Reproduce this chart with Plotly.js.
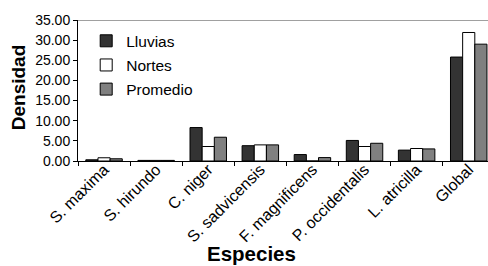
<!DOCTYPE html>
<html>
<head>
<meta charset="utf-8">
<script src="https://cdn.plot.ly/plotly-3.0.1.min.js"></script>
<style>html,body{margin:0;padding:0;background:#fff;}#chart{width:488px;height:266px;}</style>
</head>
<body>
<div id="chart"></div>
<script>
const especies = ["S. maxima", "S. hirundo", "C. niger", "S. sadvicensis", "F. magnificens", "P. occidentalis", "L. atricilla", "Global"];
const lluvias  = [0.3, 0.15, 8.3, 3.8, 1.6, 5.1, 2.7, 25.8];
const nortes   = [0.8, 0.15, 3.6, 4.0, 0.0, 3.6, 3.1, 31.9];
const promedio = [0.55, 0.15, 5.9, 4.0, 0.85, 4.4, 3.0, 29.0];
const yTicks = [0, 5, 10, 15, 20, 25, 30, 35];

const font = "'Liberation Sans', Arial, sans-serif";
const mk = (name, vals, color) => ({
  type: 'bar', name: name, x: especies, y: vals, legendgroup: name,
  marker: {color: color, line: {color: '#000', width: 1}}
});
const data = [
  mk('Lluvias', lluvias, '#333333'),
  mk('Nortes', nortes, '#ffffff'),
  mk('Promedio', promedio, '#808080')
];
const layout = {
  width: 488, height: 266,
  margin: {l: 78, r: 0, t: 19.5, b: 104.5},
  paper_bgcolor: '#fff', plot_bgcolor: '#fff',
  font: {family: font, color: '#000', size: 14},
  barmode: 'group', bargap: 0.3, bargroupgap: 0,
  showlegend: true,
  legend: {x: 0.02, y: 0.97, xanchor: 'left', yanchor: 'top', bgcolor: 'rgba(0,0,0,0)',
           font: {size: 15.5, family: font}, traceorder: 'grouped', tracegroupgap: 1},
  xaxis: {type: 'category', range: [-0.5, 7.37], tickson: 'boundaries', ticks: 'outside', ticklen: 4,
          tickcolor: '#000', showline: true, linecolor: '#000', linewidth: 1, showgrid: false,
          tickangle: -45, tickfont: {size: 16, family: font},
          ticklabelposition: 'outside', ticklabelstandoff: -8,
          zeroline: false, fixedrange: true},
  yaxis: {range: [0, 35], tickvals: yTicks, ticktext: yTicks.map(v => v.toFixed(2)), ticks: 'outside', ticklen: 4,
          tickcolor: '#000', showline: true, linecolor: '#000', linewidth: 1, showgrid: false,
          zeroline: false, tickfont: {size: 14, family: font}, fixedrange: true},
  shapes: [{type: 'line', xref: 'paper', yref: 'y', x0: 0, x1: 1, y0: 35, y1: 35,
            line: {color: '#808080', width: 1.5}}],
  annotations: [
    {text: '<b>Densidad</b>', xref: 'paper', yref: 'paper', x: -0.145, y: 0.52, xanchor: 'center', yanchor: 'middle',
     textangle: -90, showarrow: false, font: {size: 19, family: font}},
    {text: '<b>Especies</b>', xref: 'paper', yref: 'paper', x: (251 - 78) / 410, y: -0.655, xanchor: 'center', yanchor: 'middle',
     showarrow: false, font: {size: 20.5, family: font}}
  ]
};
Plotly.newPlot('chart', data, layout, {staticPlot: true, displayModeBar: false});
</script>
</body>
</html>
